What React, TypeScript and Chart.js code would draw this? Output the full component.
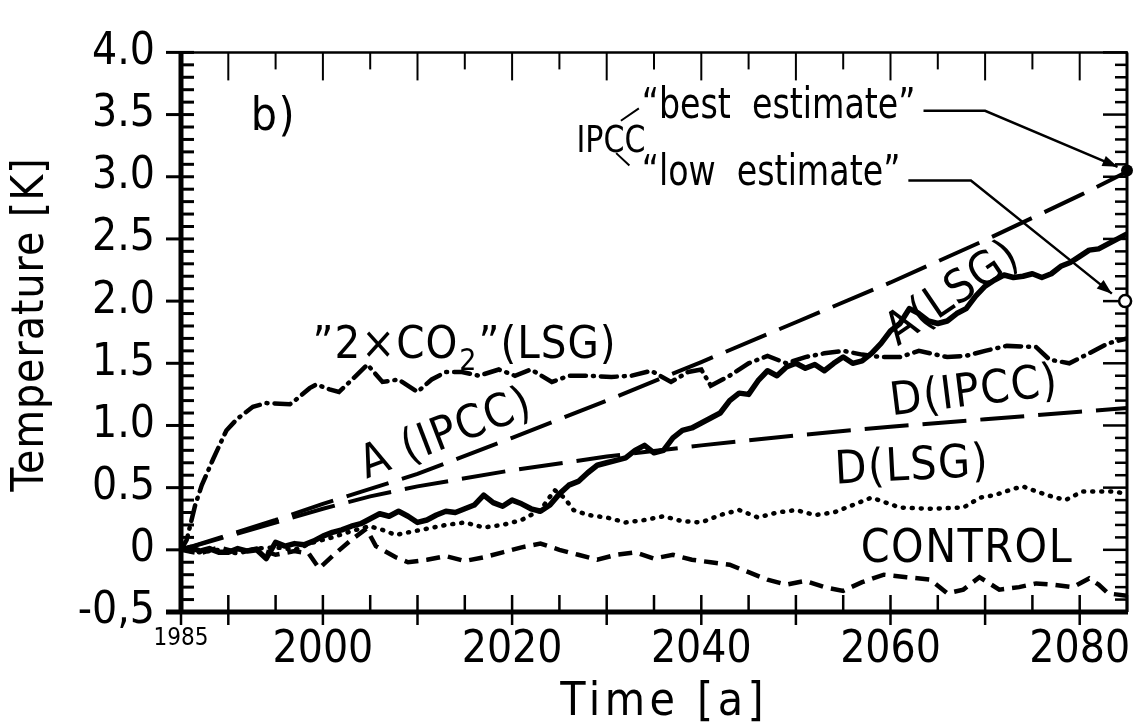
import { useEffect, useRef } from "react";
import { Chart, registerables } from "chart.js";
Chart.register(...registerables);

const FONT = "'Liberation Sans Narrow', 'DejaVu Sans Condensed', 'Roboto Condensed', 'Liberation Sans', sans-serif";

// ---------- data ----------
const ALSG_YEARS = [1985,1986,1987,1988,1989,1990,1991,1992,1993,1994,1995,1996,1997,1998,1999,2000,2001,2002,2003,2004,2005,2006,2007,2008,2009,2010,2011,2012,2013,2014,2015,2016,2017,2018,2019,2020,2021,2022,2023,2024,2025,2026,2027,2028,2029,2030,2031,2032,2033,2034,2035,2036,2037,2038,2039,2040,2041,2042,2043,2044,2045,2046,2047,2048,2049,2050,2051,2052,2053,2054,2055,2056,2057,2058,2059,2060,2061,2062,2063,2064,2065,2066,2067,2068,2069,2070,2071,2072,2073,2074,2075,2076,2077,2078,2079,2080,2081,2082,2083,2084,2085];
const ALSG_VALUES = [0.00,0.02,-0.01,0.01,-0.02,-0.02,0.01,-0.01,0.00,-0.07,0.06,0.03,0.05,0.04,0.07,0.11,0.14,0.16,0.19,0.21,0.25,0.29,0.27,0.31,0.27,0.22,0.24,0.28,0.31,0.30,0.33,0.36,0.44,0.38,0.35,0.40,0.37,0.33,0.31,0.36,0.45,0.52,0.55,0.62,0.68,0.70,0.72,0.74,0.80,0.84,0.78,0.80,0.90,0.96,0.98,1.02,1.06,1.10,1.20,1.26,1.25,1.36,1.44,1.40,1.47,1.50,1.46,1.49,1.44,1.50,1.55,1.50,1.52,1.58,1.66,1.76,1.82,1.94,1.90,1.84,1.82,1.84,1.90,1.94,2.04,2.12,2.17,2.21,2.19,2.20,2.22,2.19,2.22,2.28,2.31,2.36,2.41,2.42,2.46,2.50,2.54];

const CO2_YEARS = [1985,1985.6,1986.5,1987.2,1988.4,1989.8,1990.9,1992.6,1994,1996.5,1997.2,1998.6,1999.3,2000.7,2001.7,2003.1,2004.7,2006.3,2008,2010,2011.5,2013,2014.7,2016.5,2018.6,2020.3,2022,2024.2,2026,2028,2030.5,2032.6,2034.7,2036.8,2038.6,2040,2041,2043,2045,2047,2049,2051,2053,2055,2057,2059,2061,2063,2066,2068,2070,2072.3,2075.4,2076.8,2078.9,2081,2083,2085];
const CO2_VALUES = [0,0.08,0.36,0.52,0.73,0.96,1.05,1.15,1.18,1.17,1.21,1.30,1.33,1.29,1.27,1.37,1.49,1.35,1.37,1.27,1.37,1.43,1.43,1.40,1.45,1.40,1.45,1.35,1.40,1.40,1.39,1.40,1.44,1.35,1.43,1.45,1.32,1.40,1.50,1.56,1.50,1.55,1.58,1.60,1.57,1.55,1.55,1.60,1.55,1.56,1.60,1.64,1.63,1.53,1.50,1.58,1.66,1.70];

const DLSG_YEARS = [1985,1987,1989,1991,1993,1995,1997,1999,2001,2003,2004.9,2006.3,2007.7,2009,2011,2013,2015,2017,2019,2021,2023,2024.5,2025.5,2026.5,2028,2030,2032,2034,2036,2038,2040,2042,2044,2046,2048,2050,2052,2054,2056,2058,2059.5,2061,2064,2067.7,2069.5,2071,2073,2074,2075.4,2077,2078.5,2080.3,2083.5,2085];
const DLSG_VALUES = [0,-0.02,0.0,-0.03,0.01,0.02,0.0,0.06,0.10,0.15,0.19,0.16,0.12,0.14,0.17,0.20,0.22,0.18,0.20,0.24,0.32,0.48,0.42,0.32,0.28,0.26,0.22,0.24,0.27,0.23,0.22,0.28,0.32,0.26,0.30,0.32,0.28,0.30,0.36,0.42,0.38,0.34,0.33,0.34,0.42,0.44,0.49,0.51,0.47,0.43,0.40,0.47,0.47,0.45];

const CONTROL_YEARS = [1985,1987,1989,1991,1993,1995,1997,1998.5,1999.6,2001,2003,2004.6,2005.6,2007.7,2009,2011,2013,2015,2017,2019,2021,2023,2025,2027,2029,2031,2033,2035,2037,2039,2041,2043,2045,2047,2049,2051,2053,2055,2057,2059.3,2061.7,2064.2,2066,2067.7,2069.4,2071.5,2073.6,2075.4,2077.2,2079.3,2081,2082,2083,2085];
const CONTROL_VALUES = [0,-0.03,0.02,-0.02,0.01,-0.04,-0.01,-0.03,-0.15,-0.05,0.08,0.17,0.03,-0.06,-0.10,-0.08,-0.05,-0.09,-0.06,-0.02,0.02,0.05,0.00,-0.04,-0.08,-0.04,-0.02,-0.07,-0.04,-0.08,-0.10,-0.12,-0.18,-0.24,-0.28,-0.25,-0.30,-0.33,-0.26,-0.20,-0.22,-0.24,-0.35,-0.32,-0.22,-0.32,-0.30,-0.27,-0.28,-0.30,-0.23,-0.28,-0.35,-0.37];

const IPCC_YEARS = [1985,1990,1995,2000,2005,2010,2020,2030,2040,2050,2060,2070,2080,2085];
const AIPCC_VALUES = [0,0.12,0.24,0.37,0.49,0.61,0.90,1.20,1.51,1.83,2.15,2.49,2.85,3.04];
const DIPCC_VALUES = [0,0.11,0.22,0.33,0.43,0.51,0.64,0.75,0.84,0.92,0.99,1.05,1.11,1.14];

// ---------- ticks ----------
const X_TICK_YEARS = [1985,1990,1995,2000,2005,2010,2015,2020,2025,2030,2035,2040,2045,2050,2055,2060,2065,2070,2075,2080,2085];
const X_LABEL_YEARS = [1985,2000,2020,2040,2060,2080];
const X_LABELS = ["1985","2000","2020","2040","2060","2080"];
const Y_TICK_VALUES = [-0.5,0,0.5,1,1.5,2,2.5,3,3.5,4];
const Y_TICK_LABELS = ["-0,5","0","0.5","1.0","1.5","2.0","2.5","3.0","3.5","4.0"];
const Y_MINOR_VALUES = [-0.5,-0.4,-0.3,-0.2,-0.1,0,0.1,0.2,0.3,0.4,0.5,0.6,0.7,0.8,0.9,1,1.1,1.2,1.3,1.4,1.5,1.6,1.7,1.8,1.9,2,2.1,2.2,2.3,2.4,2.5,2.6,2.7,2.8,2.9,3,3.1,3.2,3.3,3.4,3.5,3.6,3.7,3.8,3.9,4];
const X_TITLE = "Time [a]";
const Y_TITLE = "Temperature [K]";

// ---------- annotations (anchored in data units) ----------
const LINE_LABELS = [
  { text: "b)", year: 1994.7, temp: 3.47, angle: 0 },
  { text: "A (IPCC)", year: 2013.0, temp: 0.92, angle: -21 },
  { text: "A(LSG)", year: 2066.6, temp: 2.05, angle: -34 },
  { text: "D(IPCC)", year: 2068.8, temp: 1.26, angle: -7 },
  { text: "D(LSG)", year: 2062.2, temp: 0.66, angle: -3 },
  { text: "CONTROL", year: 2068.0, temp: 0.0, angle: 0 },
];
const SQUEEZE = 0.88;

const pts = (xs: number[], ys: number[]) => xs.map((x, i) => ({ x, y: ys[i] }));

const framePlugin = {
  id: "frame",
  afterDraw(chart: any) {
    const { ctx, chartArea: a, scales } = chart;
    const xs = scales.x, ys = scales.y;
    const X = (v: number) => xs.getPixelForValue(v);
    const Y = (v: number) => ys.getPixelForValue(v);
    ctx.save();
    ctx.strokeStyle = "#000";
    ctx.fillStyle = "#000";
    const seg = (x1: number, y1: number, x2: number, y2: number, w: number) => {
      ctx.lineWidth = w;
      ctx.beginPath();
      ctx.moveTo(x1, y1);
      ctx.lineTo(x2, y2);
      ctx.stroke();
    };
    for (const yr of X_TICK_YEARS) {
      const px = X(yr);
      const decade = yr % 10 === 0;
      seg(px, a.bottom, px, a.bottom - 17, 2.5);
      if (decade || yr === 1985) seg(px, a.bottom, px, a.bottom + 13, 2.5);
      seg(px, a.top, px, a.top + (decade ? 28 : 17), 2);
    }
    Y_MINOR_VALUES.forEach((v, i) => {
      const py = Y(v);
      const major = i % 5 === 0;
      seg(a.left, py, a.left + 13, py, 3);
      if (major) seg(a.left - 15, py, a.left, py, 3);
      seg(a.right, py, a.right - (major ? 24 : 12), py, 2.5);
    });
    seg(a.left, a.top, a.right + 1, a.top, 2.5);
    seg(a.right, a.top, a.right, a.bottom, 3);
    seg(a.left, a.top - 1, a.left, a.bottom + 2, 5);
    seg(a.left - 15, a.bottom, a.right + 1, a.bottom, 5);

    const font = (s: number) => `${s}px ${FONT}`;
    const text = (s: string, x: number, y: number, size: number, align: string, baseline: string, angle = 0, squeeze = 1, spacing = 0) => {
      ctx.save();
      ctx.translate(x, y);
      ctx.rotate((angle * Math.PI) / 180);
      ctx.scale(squeeze, 1);
      ctx.font = font(size);
      (ctx as any).letterSpacing = `${spacing}px`;
      ctx.textAlign = align;
      ctx.textBaseline = baseline;
      const w = ctx.measureText(s).width;
      if (align === "center" && spacing) ctx.fillText(s, spacing / 2, 0);
      else ctx.fillText(s, 0, 0);
      ctx.restore();
      return w * squeeze;
    };
    for (const l of LINE_LABELS) text(l.text, X(l.year), Y(l.temp), 46, "center", "middle", l.angle, 1, 1.5);

    // axis titles
    text(X_TITLE, (a.left + a.right) / 2 + 8, 703, 46, "center", "middle", 0, 1, 4.5);
    text(Y_TITLE, 32, 325, 44, "center", "middle", -90, 1, 1);

    // "2xCO2"(LSG)
    {
      let x0 = X(1998.9);
      const yb = Y(1.54);
      x0 += text("\u201D2\u00D7CO", x0, yb, 45, "left", "alphabetic", 0, 1, 1);
      x0 += text("2", x0 + 1, yb + 12, 30, "left", "alphabetic") + 3;
      text("\u201D(LSG)", x0, yb, 45, "left", "alphabetic", 0, 1, 1);
    }
    // IPCC call-outs
    text("IPCC", X(2026.8), Y(3.28), 38, "left", "middle", 0, SQUEEZE);
    const wBest = text("\u201Cbest  estimate\u201D", X(2033.7), Y(3.56), 42, "left", "middle", 0, SQUEEZE);
    const wLow = text("\u201Clow  estimate\u201D", X(2033.7), Y(3.02), 42, "left", "middle", 0, SQUEEZE);
    ctx.lineWidth = 2;
    ctx.beginPath();
    ctx.moveTo(X(2031.5), Y(3.45)); ctx.lineTo(X(2033.4), Y(3.55));
    ctx.moveTo(X(2031.0), Y(3.19)); ctx.lineTo(X(2032.4), Y(3.09));
    ctx.stroke();
    ctx.lineWidth = 2.5;
    const leader = (x0: number, y0: number, path: number[][]) => {
      ctx.beginPath();
      ctx.moveTo(x0, y0);
      path.forEach(([yr, t]) => ctx.lineTo(X(yr), Y(t)));
      ctx.stroke();
      const [y1, t1] = path[path.length - 2];
      const [y2, t2] = path[path.length - 1];
      const ax = X(y2), ay = Y(t2);
      const ang = Math.atan2(ay - Y(t1), ax - X(y1));
      ctx.beginPath();
      ctx.moveTo(ax, ay);
      ctx.lineTo(ax - 16 * Math.cos(ang - 0.35), ay - 16 * Math.sin(ang - 0.35));
      ctx.lineTo(ax - 16 * Math.cos(ang + 0.35), ay - 16 * Math.sin(ang + 0.35));
      ctx.closePath();
      ctx.fill();
    };
    leader(X(2033.7) + wBest + 8, Y(3.53), [[2070.0, 3.53], [2084.0, 3.08]]);
    leader(X(2033.7) + wLow + 8, Y(2.97), [[2068.5, 2.97], [2083.4, 2.06]]);
    ctx.beginPath();
    ctx.arc(X(2085), Y(3.05), 6, 0, Math.PI * 2);
    ctx.fill();
    ctx.beginPath();
    ctx.fillStyle = "#fff";
    ctx.arc(X(2084.8), Y(2.0), 6, 0, Math.PI * 2);
    ctx.fill();
    ctx.lineWidth = 2.5;
    ctx.stroke();
    ctx.restore();
  },
};

export default function App() {
  const ref = useRef<HTMLCanvasElement | null>(null);
  useEffect(() => {
    document.body.style.margin = "0";
    const canvas = ref.current!;
    const base = { borderColor: "#000", backgroundColor: "#000", pointRadius: 0, fill: false, tension: 0, borderWidth: 5 };
    const chart = new Chart(canvas, {
      type: "line",
      data: {
        datasets: [
          { ...base, label: "A(IPCC)", data: pts(IPCC_YEARS, AIPCC_VALUES), borderDash: [44, 14], borderWidth: 4 },
          { ...base, label: "D(IPCC)", data: pts(IPCC_YEARS, DIPCC_VALUES), borderDash: [44, 14], borderWidth: 4 },
          { ...base, label: "2xCO2(LSG)", data: pts(CO2_YEARS, CO2_VALUES), borderDash: [16, 7, 1, 7], borderCapStyle: "round", borderWidth: 4.5 },
          { ...base, label: "D(LSG)", data: pts(DLSG_YEARS, DLSG_VALUES), borderDash: [1, 8], borderCapStyle: "round", borderWidth: 4.5 },
          { ...base, label: "CONTROL", data: pts(CONTROL_YEARS, CONTROL_VALUES), borderDash: [14, 8], borderWidth: 4.5 },
          { ...base, label: "A(LSG)", data: pts(ALSG_YEARS, ALSG_VALUES), borderWidth: 5.5, borderJoinStyle: "round" },
        ] as any,
      },
      options: {
        responsive: false,
        maintainAspectRatio: false,
        animation: false,
        layout: { padding: { top: 32, right: 8, left: 0, bottom: 0 } },
        plugins: { legend: { display: false }, tooltip: { enabled: false } },
        scales: {
          x: {
            type: "linear",
            min: 1985,
            max: 2085,
            grid: { display: false, drawTicks: false },
            border: { display: false },
            ticks: {
              stepSize: 5,
              autoSkip: false,
              maxRotation: 0,
              minRotation: 0,
              padding: 12,
              color: "#000",
              font: (c: any) => ({ family: FONT, size: c.tick && c.tick.value === 1985 ? 24 : 44 }),
              callback: (v: any) => {
                const i = X_LABEL_YEARS.indexOf(Math.round(Number(v)));
                return i >= 0 ? X_LABELS[i] : "";
              },
            },
            title: { display: false },
            afterFit: (s: any) => { s.height = 116; },
          },
          y: {
            type: "linear",
            min: -0.5,
            max: 4,
            grid: { display: false, drawTicks: false },
            border: { display: false },
            ticks: {
              stepSize: 0.5,
              padding: 26,
              color: "#000",
              font: { family: FONT, size: 44 },
              callback: (v: any) => {
                const i = Y_TICK_VALUES.findIndex((t) => Math.abs(t - Number(v)) < 1e-6);
                return i >= 0 ? Y_TICK_LABELS[i] : "";
              },
            },
            title: { display: false },
            afterFit: (s: any) => { s.width = 181; },
          },
        },
      },
      plugins: [framePlugin],
    });
    return () => chart.destroy();
  }, []);
  return <canvas ref={ref} width={1139} height={728} style={{ display: "block" }} />;
}
